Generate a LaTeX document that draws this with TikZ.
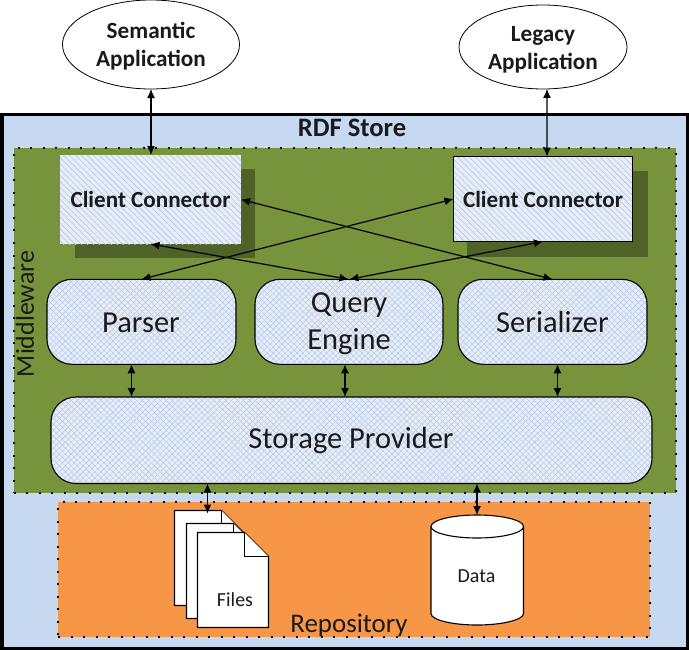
\documentclass[tikz,border=0pt]{standalone}
\usepackage{fontspec}
\setmainfont{Carlito}
\usetikzlibrary{patterns.meta,shapes.geometric,arrows.meta,calc}
\definecolor{rdfblue}{HTML}{C6D9F1}
\definecolor{midgreen}{HTML}{77933C}
\definecolor{shadowgreen}{HTML}{4F6228}
\definecolor{repoorange}{HTML}{F79646}
\definecolor{palefill}{HTML}{E6EDF8}
\definecolor{hatchblue}{HTML}{B4C6E7}
\definecolor{inktext}{HTML}{1A1A1A}
\tikzset{
  x=1bp,y=-1bp,
  every node/.style={inner sep=0pt,outer sep=0pt,text=inktext,align=center},
  link/.style={draw=black,line width=1.2bp,{Latex[length=9bp,width=8bp]}-{Latex[length=9bp,width=8bp]}},
  dotbox/.style={draw=black,line width=2bp,dash pattern=on 2bp off 10.5bp,rectangle,anchor=north west},
  appell/.style={draw=black,line width=.8bp,fill=white,ellipse},
  applabel/.style={font=\fontsize{23.3}{28}\selectfont\bfseries},
  hatchclient/.style={preaction={fill=palefill},preaction={pattern={Lines[angle=-45,distance=4.2bp,line width=.6bp]},pattern color=hatchblue},
     rectangle,anchor=north west,font=\fontsize{23.2}{28}\selectfont\bfseries},
  shadowbox/.style={fill=shadowgreen,rectangle,anchor=north west},
  module/.style={draw=black,line width=1.1bp,rounded corners=25bp,rectangle,anchor=north west,preaction={fill=palefill},
     preaction={pattern={Lines[angle=45,distance=4.2bp,line width=.45bp]},pattern color=hatchblue},
     preaction={pattern={Lines[angle=-45,distance=4.2bp,line width=.45bp]},pattern color=hatchblue}},
  modlabel/.style={font=\fontsize{30.6}{37}\selectfont},
  page/.style={draw=black,line width=1.1bp,fill=white,line join=miter},
}
\begin{document}
\begin{tikzpicture}
\useasboundingbox (0,0) rectangle (689,650);
% outer frames
\node[draw=black,line width=3bp,fill=rdfblue,rectangle,anchor=north west,minimum width=685bp,minimum height=534bp] (store) at (2,114.5) {};
\node[font=\fontsize{26.7}{32}\selectfont\bfseries] (storelabel) at (352,128) {RDF Store};
\node[dotbox,fill=midgreen,minimum width=662bp,minimum height=344.5bp] (middleware) at (13.5,148) {};
\node[dotbox,fill=repoorange,minimum width=592bp,minimum height=135bp] (repo) at (58,502) {};
\node[font=\fontsize{26}{32}\selectfont,rotate=90] (midlabel) at (25,314) {Middleware};
\node[font=\fontsize{27}{32}\selectfont] (repolabel) at (349,625) {Repository};
% applications
\node[appell,minimum width=177bp,minimum height=89bp] (sem) at (151,44.5) {};
\node[applabel] (semlabel) at (151,46.5) {Semantic\\Application};
\node[appell,minimum width=168bp,minimum height=84bp] (leg) at (543,47) {};
\node[applabel] (leglabel) at (543,50) {Legacy\\Application};
% client connectors
\node[shadowbox,minimum width=180bp,minimum height=89bp] (sh1) at (75,169) {};
\node[hatchclient,minimum width=181bp,minimum height=89bp] (cc1) at (60,155) {Client Connector};
\node[shadowbox,minimum width=181bp,minimum height=86bp] (sh2) at (467,171) {};
\node[hatchclient,draw=black,line width=1.1bp,minimum width=179bp,minimum height=85bp] (cc2) at (453.5,156.5) {Client Connector};
% modules
\node[module,minimum width=189bp,minimum height=85bp] (parser) at (47,279.3) {};
\node[modlabel] (parserlabel) at (141,322.5) {Parser};
\node[module,minimum width=188bp,minimum height=85bp] (query) at (255,279.3) {};
\node[modlabel] (querylabel) at (349,324) {Query\\Engine};
\node[module,minimum width=189bp,minimum height=85bp] (serial) at (458,279.3) {};
\node[modlabel] (seriallabel) at (552.5,322) {Serializer};
\node[module,minimum width=601bp,minimum height=86.5bp] (storage) at (51,397) {};
\node[modlabel] (storagelabel) at (351,441) {Storage Provider};
% repository contents
\coordinate (fileA) at (174.5,510.5);
\coordinate (fileB) at (186.5,523.5);
\coordinate (fileC) at (197.5,532.5);
\foreach \p in {fileA,fileB,fileC}{
  \draw[page] (\p) -- ++(47,0) -- ++(24,24) -- ++(0,71) -- ++(-71,0) -- cycle;
  \draw[page] ($(\p)+(47,0)$) -- ++(0,24) -- ++(24,0);
}
\node[font=\fontsize{20}{24}\selectfont] (fileslabel) at (235,600) {Files};
\draw[page] (431,526.5) -- (431,613.5) .. controls (431,619.85) and (451.8,625) .. (477,625) .. controls (502.2,625) and (523.5,619.85) .. (523.5,613.5) -- (523.5,526.5) .. controls (523.5,520.15) and (502.2,515) .. (477,515) .. controls (451.8,515) and (431,520.15) .. (431,526.5) -- cycle;
\draw[page] (431,526.5) .. controls (431,532.85) and (451.8,538) .. (477,538) .. controls (502.2,538) and (523.5,532.85) .. (523.5,526.5);
\coordinate (datatop) at (477,515);
\coordinate (filetop) at (207.5,510.5);
\node[font=\fontsize{20}{24}\selectfont] (datalabel) at (476.5,576) {Data};
% connectors
\draw[link] (sem.south) -- (sem.south |- cc1.north);
\draw[link] ([xshift=4bp]leg.south) -- ([xshift=4bp]cc2.north);
\draw[link] (cc1.east) -- (serial.north);
\draw[link] (cc1.south) -- ([xshift=-.5bp]query.north);
\draw[link] (cc2.west) -- (parser.north);
\draw[link] (cc2.south) -- ([xshift=.5bp]query.north);
\draw[link] ([xshift=-10bp]parser.south) -- ([xshift=-10bp]parser.south |- storage.north);
\draw[link] ([xshift=-4bp]query.south) -- ([xshift=-4bp]query.south |- storage.north);
\draw[link] ([xshift=5bp]serial.south) -- ([xshift=5bp]serial.south |- storage.north);
\draw[link] (filetop |- storage.south) -- ([yshift=-3bp]filetop);
\draw[link] (datatop |- storage.south) -- (datatop);
\end{tikzpicture}
\end{document}
